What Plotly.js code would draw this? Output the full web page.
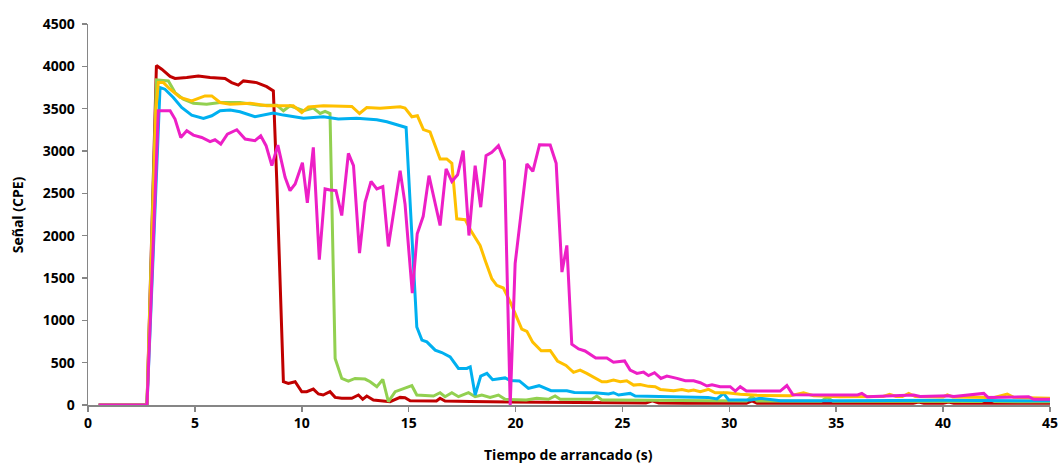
<!DOCTYPE html>
<html>
<head>
<meta charset="utf-8">
<script src="https://cdn.plot.ly/plotly-3.0.1.min.js"></script>
<style>html,body{margin:0;padding:0;background:#fff;}#chart{width:1061px;height:466px;}</style>
</head>
<body>
<div id="chart"></div>
<script>
// Data (time in s, signal in CPE)
const redX = [0.5, 2.76, 3.2, 3.45, 3.84, 4.07, 4.62, 5.16, 5.71, 6.41, 6.72, 7.03, 7.27, 7.89, 8.36, 8.67, 8.83, 9.14, 9.37, 9.69, 10.0, 10.23, 10.54, 10.78, 11.0, 11.32, 11.56, 11.87, 12.34, 12.65, 12.85, 13.04, 13.35, 13.82, 14.13, 14.6, 14.83, 15.07, 16.3, 16.47, 16.7, 17.88, 20, 22, 24, 26.1, 26.4, 26.7, 28, 30.8, 31.06, 31.3, 34, 38.6, 38.86, 39.1, 40.0, 40.26, 40.5, 42, 45];
const redY = [0, 0, 4010, 3966, 3880, 3857, 3869, 3887, 3869, 3857, 3808, 3778, 3828, 3808, 3760, 3710, 2650, 275, 255, 275, 157, 157, 188, 130, 118, 157, 90, 79, 79, 118, 67, 106, 59, 47, 39, 90, 86, 51, 47, 79, 47, 40, 35, 32, 30, 25, 50, 25, 22, 22, 50, 22, 20, 20, 35, 20, 20, 35, 20, 20, 20];

const greenX = [0.5, 2.76, 3.2, 3.76, 4.07, 4.46, 4.93, 5.55, 6.18, 7.11, 8.05, 8.83, 9.14, 9.45, 10.08, 10.54, 10.86, 11.09, 11.32, 11.56, 11.87, 12.18, 12.49, 12.96, 13.2, 13.51, 13.79, 14.05, 14.37, 14.76, 15.15, 15.38, 16.16, 16.47, 16.7, 17.02, 17.33, 17.8, 18.11, 18.42, 18.81, 19.2, 19.51, 20.5, 20.99, 21.54, 21.85, 22.09, 23.57, 23.8, 24.04, 24.57, 26, 28, 30.8, 31.06, 31.3, 34.3, 34.57, 34.85, 38, 41.8, 42.1, 42.4, 45];
const greenY = [0, 0, 3840, 3828, 3690, 3612, 3565, 3553, 3573, 3573, 3541, 3541, 3475, 3534, 3475, 3506, 3443, 3467, 3443, 550, 314, 283, 314, 306, 275, 216, 302, 39, 157, 188, 228, 118, 106, 145, 98, 145, 98, 145, 98, 118, 90, 118, 67, 59, 79, 67, 106, 67, 67, 106, 59, 59, 55, 50, 47, 100, 47, 45, 90, 45, 42, 40, 80, 40, 38];

const blueX = [0.5, 2.76, 3.37, 3.6, 3.99, 4.38, 4.85, 5.4, 5.79, 6.18, 6.65, 7.11, 7.81, 8.2, 8.67, 9.14, 9.92, 10.08, 11.01, 11.71, 12.57, 13.51, 13.98, 14.45, 14.88, 15.38, 15.62, 15.85, 16.24, 16.55, 16.94, 17.33, 17.72, 17.88, 18.11, 18.37, 18.66, 18.93, 19.2, 19.51, 19.75, 20.18, 20.6, 21.1, 21.66, 22.4, 22.75, 23.7, 24.35, 24.58, 24.82, 25.36, 25.6, 26.77, 29.0, 29.42, 29.73, 29.97, 31, 31.45, 32.4, 35.2, 40, 45];
const blueY = [0, 0, 3750, 3730, 3632, 3514, 3424, 3384, 3416, 3475, 3483, 3463, 3404, 3424, 3447, 3424, 3396, 3388, 3404, 3377, 3388, 3369, 3345, 3306, 3278, 922, 766, 746, 648, 620, 569, 432, 432, 451, 118, 341, 373, 298, 308, 320, 290, 284, 196, 228, 169, 169, 149, 145, 130, 145, 118, 137, 106, 98, 90, 71, 137, 59, 59, 79, 51, 51, 55, 50];

const yellowX = [0.5, 2.76, 3.18, 3.29, 3.53, 3.84, 4.31, 4.85, 5.47, 5.79, 6.18, 6.65, 7.58, 8.36, 8.83, 9.6, 10.0, 10.31, 11.01, 12.34, 12.7, 13.04, 13.66, 14.6, 14.83, 15.15, 15.41, 15.69, 16.0, 16.47, 16.78, 17.02, 17.25, 17.64, 17.95, 18.34, 18.58, 18.89, 19.12, 19.43, 19.75, 20.06, 20.29, 20.53, 20.8, 21.2, 21.62, 21.96, 22.36, 22.71, 23.02, 23.33, 23.64, 24.04, 24.27, 24.58, 24.9, 25.2, 25.52, 25.83, 26.22, 26.53, 26.77, 27.39, 27.78, 28.09, 28.33, 28.64, 29.03, 29.34, 29.89, 30.51, 31.29, 32.85, 33.47, 33.94, 35.19, 37.2, 37.5, 37.8, 38.1, 38.39, 38.7, 40.0, 40.2, 40.45, 42.4, 42.7, 43.0, 43.3, 45];
const yellowY = [0, 0, 3494, 3808, 3808, 3730, 3632, 3592, 3651, 3651, 3573, 3553, 3565, 3534, 3534, 3534, 3455, 3520, 3534, 3526, 3443, 3514, 3506, 3522, 3506, 3404, 3416, 3253, 3225, 2906, 2906, 2854, 2199, 2189, 2042, 1885, 1708, 1492, 1413, 1382, 1217, 1021, 897, 870, 742, 640, 644, 520, 467, 386, 412, 373, 333, 275, 275, 294, 275, 286, 235, 243, 220, 216, 184, 169, 184, 165, 177, 157, 184, 145, 145, 126, 114, 110, 145, 110, 98, 100, 125, 100, 100, 137, 100, 95, 120, 95, 90, 110, 130, 90, 80];

const magentaX = [0.5, 2.76, 3.29, 3.84, 4.07, 4.34, 4.62, 4.93, 5.32, 5.71, 5.94, 6.21, 6.52, 6.96, 7.35, 7.81, 8.08, 8.33, 8.6, 8.88, 9.22, 9.45, 9.69, 10.03, 10.26, 10.54, 10.82, 11.09, 11.32, 11.6, 11.87, 12.18, 12.42, 12.7, 12.96, 13.24, 13.51, 13.79, 14.05, 14.32, 14.6, 14.83, 15.17, 15.4, 15.68, 15.95, 16.19, 16.47, 16.75, 17.02, 17.29, 17.55, 17.82, 18.11, 18.37, 18.62, 18.89, 19.2, 19.48, 19.75, 19.98, 20.22, 20.53, 20.81, 21.12, 21.62, 21.9, 22.17, 22.4, 22.63, 22.95, 23.25, 23.75, 24.27, 24.58, 25.1, 25.36, 25.68, 25.99, 26.22, 26.5, 26.8, 27.08, 27.55, 27.94, 28.33, 28.64, 28.95, 29.19, 29.57, 30.04, 30.28, 30.51, 30.8, 32.38, 32.69, 32.97, 34.8, 36.0, 36.2, 36.44, 38.62, 38.93, 40.26, 40.5, 41.9, 42.1, 44.0, 44.24, 45];
const magentaY = [0, 0, 3475, 3475, 3377, 3160, 3239, 3188, 3160, 3110, 3133, 3082, 3200, 3251, 3141, 3121, 3180, 3063, 2827, 3070, 2689, 2532, 2611, 2862, 2389, 3043, 1716, 2552, 2540, 2532, 2238, 2972, 2827, 1794, 2395, 2642, 2552, 2579, 1873, 2336, 2768, 2375, 1320, 2023, 2228, 2709, 2434, 2120, 2788, 2640, 2719, 3004, 2002, 2827, 2336, 2945, 2984, 3063, 2886, 0, 1669, 2179, 2847, 2760, 3074, 3071, 2854, 1570, 1885, 717, 662, 638, 554, 554, 505, 520, 412, 373, 388, 347, 381, 314, 341, 314, 286, 286, 263, 224, 240, 216, 216, 165, 216, 165, 165, 230, 122, 118, 118, 137, 98, 118, 100, 108, 100, 137, 90, 98, 67, 67];

const xTickVals = [0, 5, 10, 15, 20, 25, 30, 35, 40, 45];
const yTickVals = [0, 500, 1000, 1500, 2000, 2500, 3000, 3500, 4000, 4500];
const xTitle = 'Tiempo de arrancado (s)';
const yTitle = 'Señal (CPE)';

const series = [
  {x: redX, y: redY, color: '#C00000'},
  {x: greenX, y: greenY, color: '#92D050'},
  {x: blueX, y: blueY, color: '#00B0F0'},
  {x: yellowX, y: yellowY, color: '#FFC000'},
  {x: magentaX, y: magentaY, color: '#ED1FC6'}
];

const traces = series.map(s => ({
  type: 'scatter', mode: 'lines', x: s.x, y: s.y,
  line: {color: s.color, width: 3}, hoverinfo: 'skip', showlegend: false
}));

const tickFont = {family: 'Open Sans, sans-serif', size: 14, color: '#000', weight: 'bold'};

const layout = {
  width: 1061, height: 466,
  margin: {l: 88, r: 11, t: 24, b: 61},
  paper_bgcolor: '#fff', plot_bgcolor: '#fff',
  showlegend: false,
  xaxis: {
    range: [0, 45], tickvals: xTickVals, ticktext: xTickVals.map(String),
    showgrid: false, zeroline: false, showline: true, linecolor: '#868686', linewidth: 1.5,
    ticks: 'outside', ticklen: 5, tickcolor: '#868686', tickwidth: 1.5,
    tickfont: tickFont, automargin: false, fixedrange: true
  },
  yaxis: {
    range: [0, 4500], tickvals: yTickVals, ticktext: yTickVals.map(String),
    showgrid: false, zeroline: false, showline: true, linecolor: '#868686', linewidth: 1.5,
    ticks: 'outside', ticklen: 5, tickcolor: '#868686', tickwidth: 1.5,
    tickfont: tickFont, automargin: false, fixedrange: true, ticklabelstandoff: 4
  },
  annotations: [
    {text: xTitle, xref: 'paper', yref: 'paper', x: 0.499, y: -0.131, xanchor: 'center', yanchor: 'middle',
     showarrow: false, font: {family: 'Open Sans, sans-serif', size: 14, color: '#000', weight: 'bold'}},
    {text: yTitle, xref: 'paper', yref: 'paper', x: -0.073, y: 0.5, xanchor: 'center', yanchor: 'middle',
     textangle: -90, showarrow: false, font: {family: 'Open Sans, sans-serif', size: 14, color: '#000', weight: 'bold'}}
  ]
};

Plotly.newPlot('chart', traces, layout, {displayModeBar: false, staticPlot: true});
</script>
</body>
</html>
